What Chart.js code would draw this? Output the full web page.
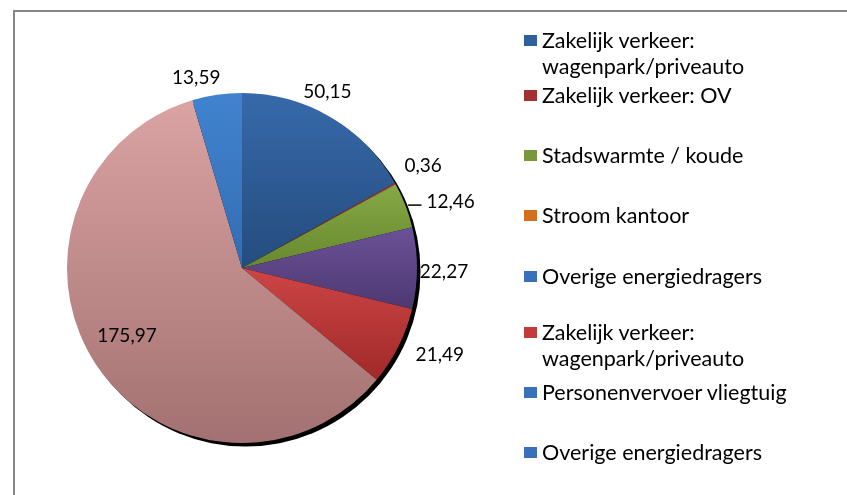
<!DOCTYPE html>
<html>
<head>
<meta charset="utf-8">
<script src="https://cdn.jsdelivr.net/npm/chart.js@4.4.0/dist/chart.umd.min.js"></script>
<style>
    body { margin: 0; background: #fff; font-family: Lato, sans-serif; }
    #wrap { position: relative; width: 847px; height: 495px; overflow: hidden; }
    #frame { position: absolute; left: 13px; top: 10px; width: 900px; height: 600px; border: 2px solid #868686; box-sizing: border-box; }
    #pieChart { position: absolute; left: 0; top: 0; }
    .item { position: absolute; left: 524px; font-size: 21.5px; line-height: 26px; color: #000; white-space: nowrap; }
    .item .box { position: absolute; left: 0; top: 8px; width: 13px; height: 11px; }
    .item .txt { position: absolute; left: 18px; top: 0; }
</style>
</head>
<body>
<div id="wrap">
    <div id="frame"></div>
    <canvas id="pieChart" width="847" height="495"></canvas>
    <div id="legend"></div>
</div>
<script>
// slices, clockwise from 12 o'clock
const sliceNames = [
    'Zakelijk verkeer: wagenpark/priveauto',
    'Zakelijk verkeer: OV',
    'Stadswarmte / koude',
    'Stroom kantoor',
    'Overige energiedragers',
    'Zakelijk verkeer: wagenpark/priveauto',
    'Personenvervoer vliegtuig'
];
const sliceValues = [50.15, 0.36, 12.46, 22.27, 21.49, 175.97, 13.59];

// legend entries as shown on the right
const legendLabels = [
    ['Zakelijk verkeer:', 'wagenpark/priveauto'],
    ['Zakelijk verkeer: OV'],
    ['Stadswarmte / koude'],
    ['Stroom kantoor'],
    ['Overige energiedragers'],
    ['Zakelijk verkeer:', 'wagenpark/priveauto'],
    ['Personenvervoer vliegtuig'],
    ['Overige energiedragers']
];
const legendColors = ['#2f5f9c', '#a33131', '#79973b', '#d2701f', '#3a70b9', '#c23a3a', '#3a70b9', '#3a70b9'];

// gradient colours per slice (top -> bottom)
const sliceTop = ['#3769aa', '#b83535', '#86a845', '#6b5196', '#cd4545', '#dba3a3', '#4183cf'];
const sliceBottom = ['#244c7e', '#8e2222', '#67882e', '#4d3872', '#a02929', '#a37171', '#336db2'];

const legendBaselines = [47, 102, 162, 222, 283, 339, 399, 459];
const labelNudges = [[-16, -4], [6, -6], [22, 6], [2, 4], [19, -3], [52, -42], [-17, 8]];
const leaderLines = [false, false, true, false, false, false, false];

function sliceGradient(context) {
    const chart = context.chart;
    const i = context.dataIndex;
    const area = chart.chartArea;
    if (!area) return sliceTop[i];
    const cx = (area.left + area.right) / 2;
    const cy = (area.top + area.bottom) / 2;
    const r = Math.min(area.right - area.left, area.bottom - area.top) / 2;
    const total = sliceValues.reduce((a, b) => a + b, 0);
    const before = sliceValues.slice(0, i).reduce((a, b) => a + b, 0);
    const a1 = -Math.PI / 2 + before / total * Math.PI * 2;
    const a2 = a1 + sliceValues[i] / total * Math.PI * 2;
    const ys = [cy, cy + r * Math.sin(a1), cy + r * Math.sin(a2)];
    [-Math.PI / 2, Math.PI / 2, Math.PI * 1.5].forEach(k => {
        if (k >= a1 && k <= a2) ys.push(cy + r * Math.sin(k));
    });
    const g = chart.ctx.createLinearGradient(0, Math.min(...ys), 0, Math.max(...ys) + 1);
    g.addColorStop(0, sliceTop[i]);
    g.addColorStop(1, sliceBottom[i]);
    return g;
}

const pieExtras = {
    id: 'pieExtras',
    beforeDatasetsDraw(chart) {
        const arc = chart.getDatasetMeta(0).data[0];
        const ctx = chart.ctx;
        ctx.save();
        ctx.fillStyle = '#000';
        ctx.beginPath();
        ctx.arc(arc.x + 3.5, arc.y + 3.5, arc.outerRadius, 0, Math.PI * 2);
        ctx.fill();
        ctx.restore();
    },
    afterDatasetsDraw(chart) {
        const ctx = chart.ctx;
        ctx.save();
        ctx.font = '19px Lato';
        ctx.fillStyle = '#000';
        ctx.textAlign = 'center';
        ctx.textBaseline = 'middle';
        chart.getDatasetMeta(0).data.forEach((arc, i) => {
            const mid = (arc.startAngle + arc.endAngle) / 2;
            const r = arc.outerRadius;
            const x = arc.x + Math.cos(mid) * r * 1.143 + labelNudges[i][0];
            const y = arc.y + Math.sin(mid) * r * 1.143 + labelNudges[i][1];
            const txt = sliceValues[i].toFixed(2).replace('.', ',');
            ctx.fillText(txt, x, y);
            if (leaderLines[i]) {
                const ex = arc.x + Math.cos(mid) * (r + 3);
                const ey = arc.y + Math.sin(mid) * r;
                const w = ctx.measureText(txt).width;
                ctx.strokeStyle = '#000';
                ctx.lineWidth = 1.5;
                ctx.beginPath();
                ctx.moveTo(ex, ey);
                ctx.lineTo(x - w / 2 - 5, ey);
                ctx.stroke();
            }
        });
        ctx.restore();
    }
};

const pieChartInstance = document.getElementById('pieChart').getContext('2d');
const pieChart = new Chart(pieChartInstance, {
    type: 'pie',
    data: {
        labels: sliceNames,
        datasets: [{
            data: sliceValues,
            backgroundColor: sliceGradient,
            borderWidth: 0
        }]
    },
    options: {
        responsive: false,
        animation: false,
        layout: {
            padding: { left: 67, top: 93, right: 430, bottom: 52 }
        },
        plugins: {
            legend: { display: false },
            tooltip: { enabled: false }
        }
    },
    plugins: [pieExtras]
});

// html legend
const legendEl = document.getElementById('legend');
legendLabels.forEach((lines, i) => {
    const item = document.createElement('div');
    item.className = 'item';
    item.style.top = (legendBaselines[i] - 20) + 'px';
    item.innerHTML = '<div class="box" style="background:' + legendColors[i] + '"></div>' +
        '<div class="txt">' + lines.join('<br>') + '</div>';
    legendEl.appendChild(item);
});
</script>
</body>
</html>
